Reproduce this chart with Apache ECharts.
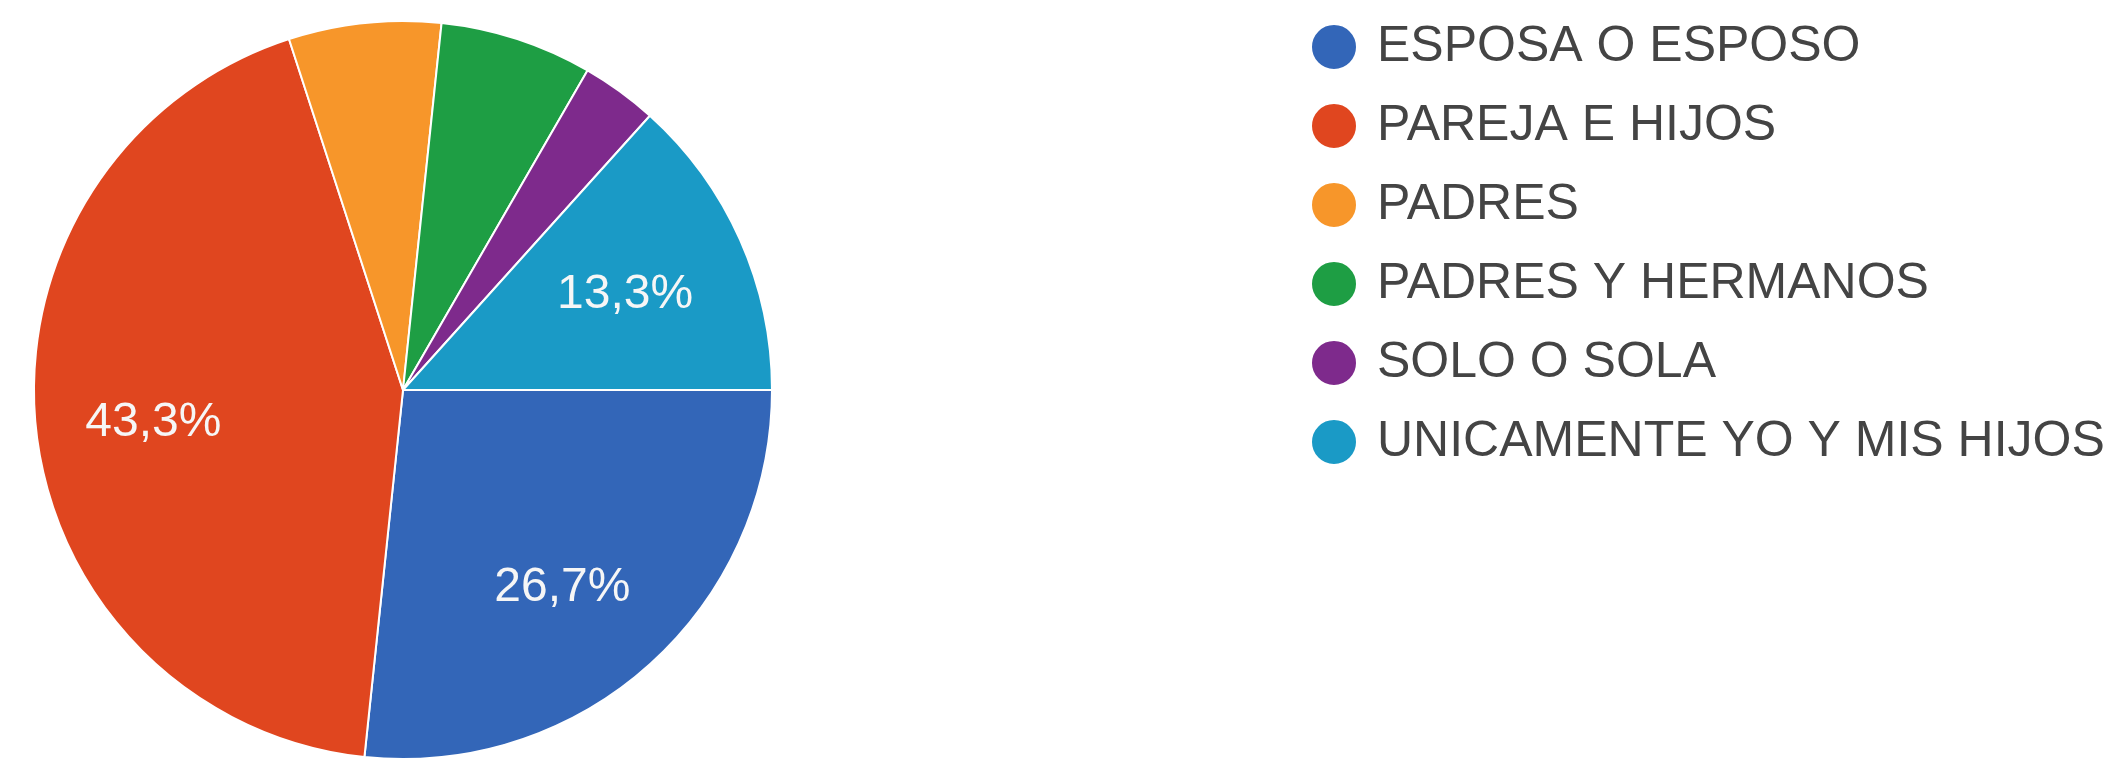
<!DOCTYPE html>
<html>
<head>
<meta charset="utf-8">
<title>Con quién vive</title>
<script src="https://cdn.jsdelivr.net/npm/echarts@6/dist/echarts.min.js"></script>
<style>
  html, body { margin: 0; padding: 0; background: #ffffff; }
  #chart { width: 2103px; height: 761px; }
</style>
</head>
<body>
<div id="chart"></div>
<script>
// Household composition: number of responses per answer
const categories = [
  'ESPOSA O ESPOSO',
  'PAREJA E HIJOS',
  'PADRES',
  'PADRES Y HERMANOS',
  'SOLO O SOLA',
  'UNICAMENTE YO Y MIS HIJOS'
];
const responses = [8, 13, 2, 2, 1, 4];
const sliceColors = ['#3366b8', '#e0461f', '#f7962a', '#1e9e44', '#7e2a8c', '#1a9ac6'];

// Percent labels are only printed on slices of at least this share
const LABEL_MIN_PERCENT = 10;

// Small per-slice label nudges [dx, dy] in px (styling only)
const labelNudge = [[-10, 10], [2, 6], [0, 0], [0, 0], [0, 0], [-9, 8]];

const total = responses.reduce((a, b) => a + b, 0);
const pct = v => (v / total) * 100;
const fmtPct = v => pct(v).toFixed(1).replace('.', ',') + '%';

const FONT = '"Liberation Sans", Arial, Helvetica, sans-serif';
const LABEL_SIZE = 48;
const CENTER = [403, 390];
const R = 369;

// Rich styles: an invisible spacer line above the value pushes it down by dy,
// right/left padding pushes it sideways by dx
const labelRich = { v: { fontFamily: FONT, fontSize: LABEL_SIZE, lineHeight: LABEL_SIZE, color: '#f6f6f6' } };
labelNudge.forEach(([dx, dy], i) => {
  labelRich['g' + i] = { fontSize: 1, lineHeight: Math.max(1, 2 * dy), color: 'rgba(0,0,0,0)' };
});

function labelPadding(dx) {
  return [0, dx < 0 ? -2 * dx : 0, 0, dx > 0 ? 2 * dx : 0];
}

const chart = echarts.init(document.getElementById('chart'), null, { renderer: 'canvas' });

const sliceData = categories.map((name, i) => ({
  name,
  value: responses[i],
  itemStyle: { color: sliceColors[i] }
}));

// Label carrier: same angles, invisible ring so inside labels sit at ~0.68 R
const labelData = categories.map((name, i) => ({
  name,
  value: responses[i],
  label: {
    show: pct(responses[i]) >= LABEL_MIN_PERCENT,
    padding: labelPadding(labelNudge[i][0])
  }
}));

chart.setOption({
  animation: false,
  backgroundColor: '#ffffff',
  legend: {
    orient: 'vertical',
    left: 1305,
    top: 17,
    icon: 'circle',
    itemWidth: 76,
    itemHeight: 46,
    itemGap: 29,
    selectedMode: false,
    data: categories.map((name, i) => ({ name, itemStyle: { color: sliceColors[i] } })),
    textStyle: {
      fontFamily: FONT,
      fontSize: 50,
      color: '#444444'
    }
  },
  series: [
    {
      name: 'slices',
      type: 'pie',
      center: CENTER,
      radius: R,
      startAngle: 0,
      clockwise: true,
      silent: true,
      itemStyle: { borderColor: '#ffffff', borderWidth: 2 },
      label: { show: false },
      labelLine: { show: false },
      emphasis: { disabled: true },
      data: sliceData
    },
    {
      name: 'labels',
      type: 'pie',
      center: CENTER,
      radius: [131, R],
      startAngle: 0,
      clockwise: true,
      silent: true,
      itemStyle: { color: 'rgba(0,0,0,0)', borderWidth: 0 },
      label: {
        position: 'inside',
        fontFamily: FONT,
        fontSize: LABEL_SIZE,
        color: '#f6f6f6',
        rich: labelRich,
        formatter: p => '{g' + p.dataIndex + '|.}\n{v|' + fmtPct(p.value) + '}'
      },
      labelLine: { show: false },
      emphasis: { disabled: true },
      data: labelData
    }
  ]
});
</script>
</body>
</html>
